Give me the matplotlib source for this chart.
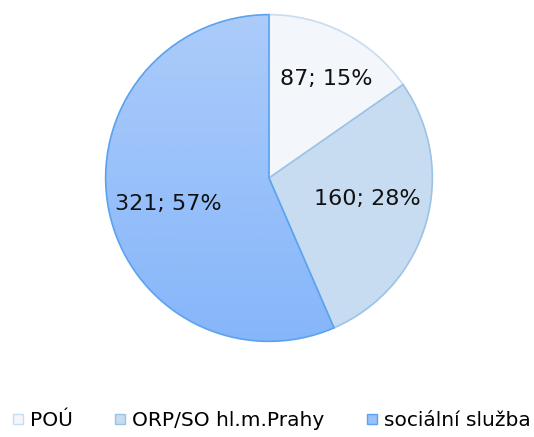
import matplotlib
matplotlib.use("Agg")
import matplotlib.pyplot as plt
import numpy as np
from matplotlib.colors import LinearSegmentedColormap
from matplotlib.lines import Line2D

categories = ["POÚ", "ORP/SO hl.m.Prahy", "sociální služba"]
values = [87, 160, 321]
percents = [15, 28, 57]

fills = ["#f3f7fc", "#c7dcf0", "#99c1fa"]
edges = ["#c9dcef", "#9cc2e6", "#5ba2f0"]

plt.rcParams["font.family"] = ["DejaVu Sans"]

fig = plt.figure(figsize=(5.34, 4.37), dpi=100)
cx, cy, r = 269, 178, 165
ax = fig.add_axes([(cx - r) / 534, (437 - cy - r) / 437, 2 * r / 534, 2 * r / 437])

wedges, _ = ax.pie(values, startangle=90, counterclock=False, radius=1,
                   colors=fills, wedgeprops=dict(linewidth=1.2))
for w, ec in zip(wedges, edges):
    w.set_edgecolor(ec)

# vertical gradient on the largest slice
grad = LinearSegmentedColormap.from_list("g", ["#acccfa", "#86b6fa"])
img = ax.imshow(np.linspace(0, 1, 256).reshape(-1, 1), cmap=grad, aspect="auto",
                extent=[-1, 1, -1, 1], origin="upper", zorder=wedges[2].get_zorder())
img.set_clip_path(wedges[2])
wedges[2].set_facecolor("none")
wedges[2].set_zorder(img.get_zorder() + 0.5)

# small per-label nudges (axes units) to match the original placement
nudge = [(0.04, -0.02), (-0.04, 0.025), (0.04, -0.05)]
for w, v, p, (nx, ny) in zip(wedges, values, percents, nudge):
    ang = np.deg2rad((w.theta1 + w.theta2) / 2)
    d = 0.67
    ax.text(d * np.cos(ang) + nx, d * np.sin(ang) + 0.03 + ny, f"{v}; {p}%",
            ha="center", va="center", fontsize=16, color="#111111", zorder=10)

ax.set_xlim(-1.01, 1.01)
ax.set_ylim(-1.01, 1.01)
ax.set_aspect("equal")
ax.axis("off")

handles = [Line2D([], [], marker="s", linestyle="none", markersize=7.5,
                  markerfacecolor=f, markeredgecolor=e, markeredgewidth=1)
           for f, e in zip(fills, edges)]
fig.legend(handles, categories, loc="center", bbox_to_anchor=(0.507, 1 - 421 / 437),
           ncol=3, frameon=False, fontsize=14.5, handletextpad=0.25,
           columnspacing=2.0, handlelength=0.7)

fig.savefig("out.png", dpi=100)
